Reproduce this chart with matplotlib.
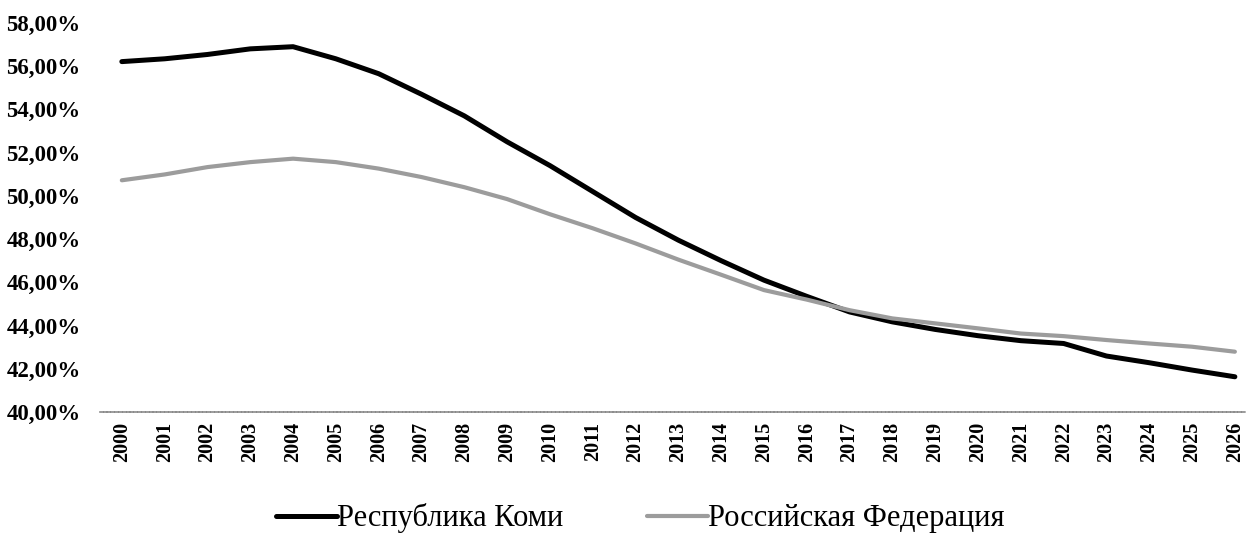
# coding:utf-8
from matplotlib import pyplot as plt
from matplotlib.ticker import FuncFormatter

years = list(range(2000, 2027))

# Республика Коми, %
komi = [56.21, 56.34, 56.54, 56.80, 56.90, 56.34, 55.65, 54.70, 53.70, 52.50,
        51.40, 50.20, 49.00, 47.95, 47.00, 46.10, 45.35, 44.63, 44.17, 43.82,
        43.53, 43.30, 43.17, 42.59, 42.28, 41.94, 41.63]

# Российская Федерация, %
russia = [50.72, 50.99, 51.33, 51.56, 51.72, 51.56, 51.26, 50.87, 50.40, 49.85,
          49.15, 48.50, 47.80, 47.05, 46.35, 45.64, 45.20, 44.71, 44.33, 44.10,
          43.87, 43.63, 43.51, 43.33, 43.17, 43.02, 42.79]

labels = ['Республика Коми', 'Российская Федерация']
y_ticks = list(range(40, 59, 2))

plt.rcParams['font.family'] = ['Liberation Serif', 'DejaVu Serif']

fig = plt.figure(figsize=(12.46, 5.33), dpi=100)
ax = fig.add_axes([100 / 1246, 0.227, 1146 / 1246, 0.730])

x = list(range(len(years)))
ax.plot(x, komi, color='black', linewidth=3.6, solid_capstyle='round', label=labels[0])
ax.plot(x, russia, color='#9c9c9c', linewidth=3.0, solid_capstyle='round', label=labels[1])

ax.set_xlim(-0.51, 26.26)
ax.set_ylim(40, 58)
ax.set_yticks(y_ticks)
ax.yaxis.set_major_formatter(FuncFormatter(lambda v, p: ('%.2f%%' % v).replace('.', ',')))
ax.set_xticks(x)
ax.set_xticklabels([str(v) for v in years], rotation=90, fontsize=14.5, fontweight='bold')
for t in ax.get_yticklabels():
    t.set_fontsize(16.5)
    t.set_fontweight('bold')

ax.tick_params(axis='y', length=0, pad=14)
ax.tick_params(axis='x', length=0, pad=7)

for s in ['top', 'right', 'left']:
    ax.spines[s].set_visible(False)
ax.spines['bottom'].set_color('#8a8a8a')
ax.spines['bottom'].set_linewidth(1.2)
ax.spines['bottom'].set_linestyle((0, (1.5, 0.8)))

fig.legend(loc='lower center', bbox_to_anchor=(0.514, -0.052), ncol=2, frameon=False,
           fontsize=22, handlelength=2.0, handletextpad=0.0, columnspacing=2.75)

plt.savefig('out.png', dpi=100)
